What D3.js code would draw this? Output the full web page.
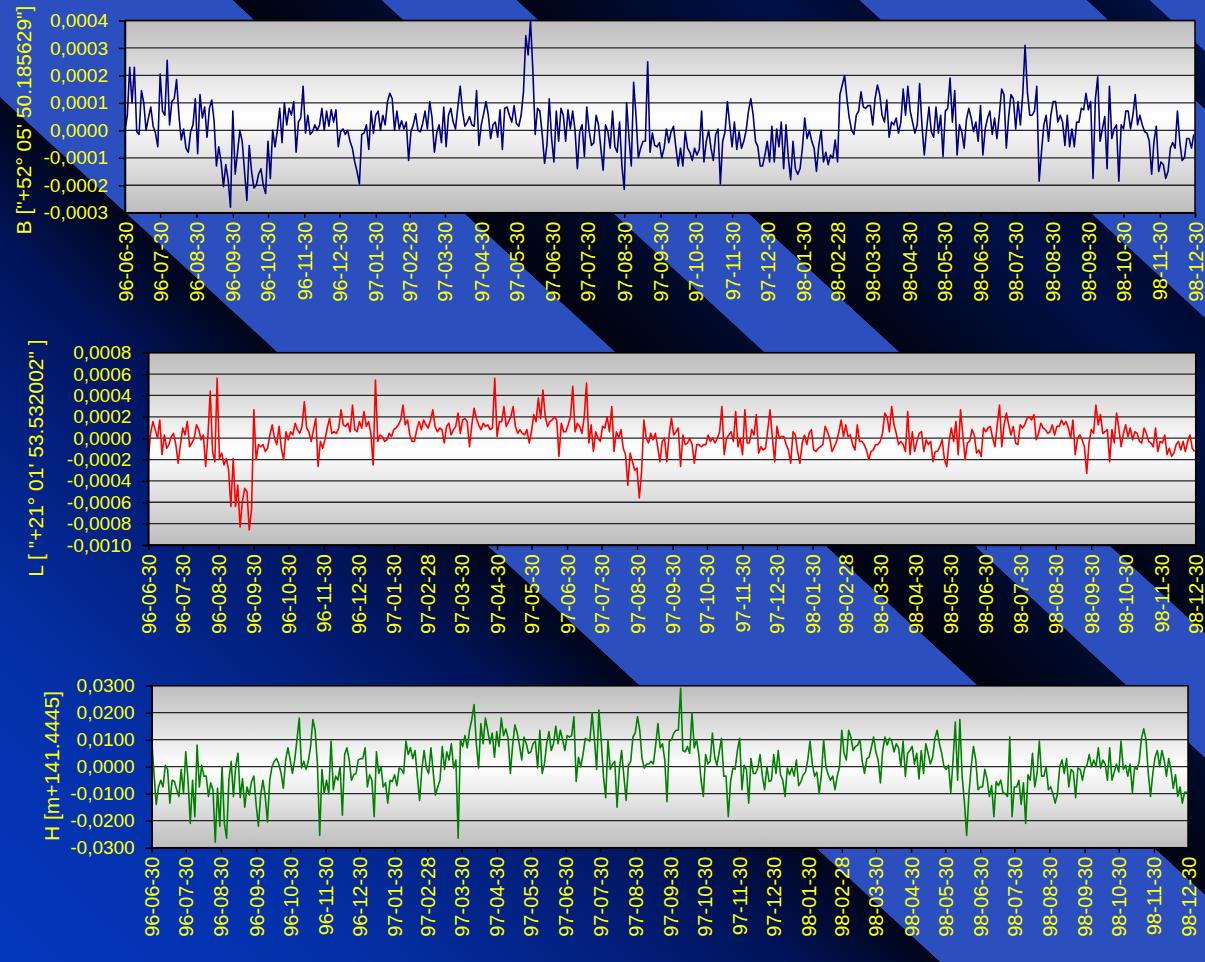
<!DOCTYPE html>
<html><head><meta charset="utf-8">
<script src="https://cdn.jsdelivr.net/npm/d3@7"></script>
<style>
html,body{margin:0;padding:0;overflow:hidden;background:#001040}
svg{display:block}
</style></head><body>
<svg id="c" width="1205" height="962"></svg>
<script>
// ---------------- DATA ----------------
const startLabel = "96-06-30";   // first observation
const endLabel = "98-12-30";     // end of the time axis
const stepDays = 2;              // one value every 2 days

const xTickLabels = ["96-06-30","96-07-30","96-08-30","96-09-30","96-10-30","96-11-30","96-12-30",
  "97-01-30","97-02-28","97-03-30","97-04-30","97-05-30","97-06-30","97-07-30","97-08-30","97-09-30",
  "97-10-30","97-11-30","97-12-30","98-01-30","98-02-28","98-03-30","98-04-30","98-05-30","98-06-30",
  "98-07-30","98-08-30","98-09-30","98-10-30","98-11-30","98-12-30"];

// B deviation, in units of 0.0001"
const valuesB = [
0.0,0.55,2.3,1.0,2.3,-0.05,-0.15,1.45,1.0,0.0,
0.45,0.85,0.15,-0.1,-0.6,2.05,0.7,0.55,2.55,0.2,
1.05,1.15,1.85,0.55,-0.35,0.05,-0.65,-0.8,-0.05,0.2,
1.15,-0.85,1.3,0.45,0.85,-0.25,0.8,1.1,0.35,-1.3,
-0.6,-1.15,-2.05,-1.25,-1.8,-2.8,0.7,-1.6,-0.8,0.0,
-0.4,-1.5,-2.55,-0.55,-1.5,-2.1,-2.0,-1.6,-1.4,-2.0,
-2.3,-0.4,-1.75,0.0,-0.6,0.0,0.8,-0.45,1.0,0.2,
0.8,0.55,1.05,-0.8,0.3,0.45,1.6,-0.1,0.55,-0.15,
-0.05,0.2,0.0,0.2,0.8,0.0,0.7,0.15,0.75,0.3,
0.75,-0.6,-0.05,0.05,-0.15,0.0,-0.4,-0.65,-1.15,-1.5,
-1.95,-0.15,-0.1,0.2,-0.7,0.7,-0.1,0.55,0.7,0.0,
0.55,0.2,1.05,1.35,1.15,0.0,0.7,0.05,0.35,0.05,
0.3,-1.1,-0.05,0.2,0.6,0.0,-0.05,0.25,0.7,0.05,
1.05,0.45,-0.8,-0.1,0.2,-0.45,0.85,-0.6,0.55,0.8,
0.3,0.05,0.85,1.6,0.7,0.15,0.3,0.5,0.2,0.15,
1.45,-0.55,
0.2,0.6,1.05,0.55,-0.3,0.2,0.3,-0.25,0.75,-0.7,
0.8,0.85,0.55,0.3,0.9,0.25,0.15,0.55,1.4,3.45,
2.75,4.0,2.2,-0.15,0.8,0.7,-0.15,-1.2,-0.55,1.15,
-0.3,-1.15,0.7,-0.4,0.8,0.55,-0.4,0.75,0.05,0.7,
0.0,-1.4,-0.05,0.2,-0.95,0.85,0.0,-0.55,-0.45,0.55,
0.2,-0.65,-1.45,0.2,-0.05,-0.65,0.7,-0.6,-0.8,0.3,
-1.3,-2.15,1.0,-0.25,-1.3,1.75,0.55,-1.0,-0.65,-0.4,
-0.4,2.5,-0.8,-0.1,-0.55,-0.6,-0.45,-1.0,-0.65,0.05,
-0.45,-0.05,0.15,-0.6,-1.3,-0.65,-1.3,-0.05,-0.65,-0.8,
-1.1,-0.65,-0.9,-0.7,0.7,-1.15,-0.4,0.0,-0.65,-1.1,
-0.15,0.05,-1.95,-0.4,-0.05,1.05,0.2,-0.6,0.3,-0.7,
-0.05,-0.65,-0.4,0.0,0.7,1.15,0.55,-0.4,-0.6,-1.3,
-1.3,-0.9,-0.4,-1.15,0.15,-1.15,0.05,-0.6,0.3,-1.4,
0.2,-1.0,-1.8,-0.4,-1.4,-1.6,-1.4,-0.65,0.45,-0.3,
0.0,-0.4,-0.65,-1.5,-0.55,0.0,-1.15,-0.8,-1.25,-0.9,
-1.0,-0.35,-1.15,
1.3,1.65,2.0,1.15,0.45,0.0,-0.15,0.55,0.7,1.4,
0.85,0.8,0.9,0.9,0.2,1.15,1.65,1.3,0.55,0.3,
1.1,-0.25,0.3,0.2,0.45,-0.1,0.3,1.5,0.55,1.6,
0.7,0.3,-0.1,0.2,1.7,0.2,-0.9,0.05,0.85,-0.05,
-0.25,0.85,-0.1,0.55,-0.95,0.7,0.8,1.9,0.3,1.45,
-0.9,0.2,-0.05,-0.65,0.4,0.8,0.45,-0.05,0.3,-0.4,
0.9,-0.9,0.05,0.45,0.7,-0.15,0.45,-0.3,0.55,1.5,
1.3,-0.65,0.5,1.3,1.15,0.05,1.05,0.2,1.3,3.1,
1.4,0.55,0.55,0.7,1.6,-1.85,-0.8,0.2,0.55,-0.4,
0.55,1.05,1.05,0.3,0.55,0.3,-0.55,0.55,-0.6,0.05,
-0.6,0.3,0.3,0.8,0.75,1.35,0.75,1.05,-1.75,1.15,
1.95,-0.4,0.05,0.5,-1.4,1.6,-0.3,0.05,0.2,-1.85,
0.2,0.05,0.7,0.7,0.05,0.55,1.3,0.2,0.55,0.2,
-0.05,-0.1,-0.4,-1.6,-0.4,0.15,-1.5,-1.15,-1.25,-1.75,
-1.5,-0.65,-0.45,-0.65,0.7,-0.4,-1.1,-1.0,-0.3,-0.3,-0.65,-0.15];

// L deviation, in units of 0.0001"
const valuesL = [
-2.0,0.45,1.55,0.8,0.0,1.7,-1.55,0.3,-0.95,-0.6,
0.15,0.45,-0.6,-2.35,-0.6,0.95,0.3,1.55,-0.8,-0.45,
0.0,1.25,0.8,-0.15,0.3,-2.65,0.3,4.4,-1.25,-2.2,
5.6,-1.9,-1.4,-2.5,-1.9,-3.0,-6.4,-1.9,-6.4,-4.4,
-8.3,-5.95,-4.7,-5.0,-8.6,-6.7,2.65,-2.0,-0.6,-0.8,
-0.6,-1.25,-0.95,0.3,1.25,0.0,-0.6,1.1,-0.95,-2.0,
0.6,-0.15,0.6,0.3,1.4,0.8,0.45,1.1,3.4,0.95,
0.6,-0.3,0.8,1.85,-2.65,-0.3,-0.95,-0.15,0.95,1.85,
0.45,0.6,0.45,0.95,2.65,1.25,1.1,1.4,0.6,3.1,
0.8,0.6,1.55,0.95,2.5,1.1,1.55,0.45,-2.5,5.45,
-0.3,0.3,0.15,-0.3,-0.15,0.45,0.15,0.8,0.95,1.25,
1.7,3.1,1.25,1.7,0.3,-0.3,-0.3,0.8,1.55,0.8,
1.7,1.25,0.95,1.7,2.65,1.1,0.6,0.95,0.8,-0.45,
1.1,1.4,0.3,0.8,1.1,2.35,0.45,1.7,1.85,1.55,
-0.8,1.25,2.8,1.85,1.25,0.8,1.4,1.1,1.25,0.8,
0.95,5.6,0.15,1.55,1.55,2.95,
1.1,1.55,2.0,2.95,1.1,0.45,0.8,0.45,0.3,0.8,
-0.45,0.6,2.2,1.55,3.75,1.85,4.5,2.0,1.1,1.55,
1.7,2.0,1.7,-1.7,1.4,0.6,0.6,1.25,2.0,4.85,
0.6,1.4,1.1,0.45,2.0,5.15,-0.45,1.25,-1.25,0.6,
0.0,-0.3,1.1,0.95,2.0,0.6,2.95,-1.25,0.6,0.0,
0.8,-0.95,-1.55,-4.4,-1.4,-2.2,-3.0,-2.8,-5.6,-3.1,
1.7,0.0,-0.45,0.45,-0.15,0.45,-0.8,-2.2,-0.3,0.0,
-2.2,0.3,1.85,0.3,0.6,0.95,-2.65,0.3,-0.6,-0.45,
0.0,-0.6,-2.35,-0.6,-0.6,-0.8,-0.6,-0.6,0.3,-0.3,
0.0,-0.45,0.0,0.6,2.95,-1.55,0.0,0.3,0.6,-0.3,
2.5,-0.8,0.0,-1.55,2.65,-0.45,-0.45,0.8,0.3,2.2,
-1.4,-0.8,-1.1,-0.95,0.8,2.65,0.0,-2.2,1.1,0.0,
0.15,0.15,-0.6,-1.1,-2.35,0.6,0.3,-1.25,-2.35,-0.45,
0.3,-0.6,0.45,0.8,-1.1,-1.25,-0.95,-0.8,-0.6,1.1,
0.6,0.0,-1.25,-0.8,-0.3,0.6,1.7,0.15,1.25,0.15,
0.3,-0.6,-1.1,1.25,
-0.3,-0.3,-0.6,-1.1,-2.0,-1.25,-1.1,-0.6,-0.6,-0.3,
0.45,2.35,2.0,0.6,2.95,1.25,0.45,-0.6,-0.3,-0.6,
-1.25,2.5,-1.55,0.6,-1.25,-0.3,0.45,0.6,-1.25,-0.15,
-0.6,-0.3,-2.2,-1.25,-1.25,-0.8,-0.15,-2.0,-2.65,-0.3,
0.95,-0.3,1.55,-1.55,2.65,0.3,-2.0,-0.45,-0.3,0.8,
0.3,-1.4,-1.1,-1.7,0.95,0.6,0.95,1.1,0.0,-0.8,
1.25,3.1,-0.8,1.25,2.35,1.25,0.3,1.1,-0.45,-0.6,
1.25,0.95,1.25,1.85,2.0,1.7,2.2,-0.15,0.45,1.4,
0.95,0.8,0.45,0.6,1.25,0.3,1.1,1.1,1.7,1.25,
1.55,0.95,0.0,1.7,-1.55,0.0,0.3,-0.15,-0.8,-3.3,
-0.45,0.8,0.45,3.1,1.25,2.2,0.45,0.6,0.8,-2.2,
0.8,-0.45,2.35,0.95,-0.8,0.45,1.25,0.15,0.95,-0.15,
0.6,0.45,-0.3,-0.45,0.95,0.45,-0.3,-0.45,-0.8,0.95,
-1.25,-0.3,-0.45,0.3,-1.55,-0.95,-1.7,-1.4,-0.6,-0.3,
-1.1,-0.3,-1.25,-0.3,0.3,-0.95,-1.25];

// H deviation, in units of 0.01 m
const valuesH = [
1.0,-0.25,-1.4,-0.75,-0.5,-0.75,0.05,-0.1,-1.35,-0.5,
-0.55,-0.85,-1.1,-0.1,-1.0,0.55,-0.5,-2.1,-0.5,-1.85,
0.8,-0.75,0.05,-0.35,-0.35,-1.1,-0.6,-0.85,-2.8,-0.8,
-2.2,0.0,-2.1,-2.65,-0.5,0.2,-1.1,0.0,0.5,-1.15,
-0.45,-1.5,-0.75,-1.05,-0.55,-0.35,-1.4,-2.2,-1.05,-0.5,
-1.1,-2.05,-0.5,0.0,0.2,0.3,0.1,-0.25,-0.8,0.25,
0.7,0.25,-0.25,0.25,1.0,1.8,-0.05,0.2,-0.1,0.2,
0.75,1.75,1.35,0.1,-2.55,-0.1,-1.0,-0.5,-1.0,0.95,
-0.85,-0.35,-0.5,0.0,-1.8,0.45,0.7,0.25,-0.5,-0.3,
-0.25,0.25,0.3,0.3,0.7,-0.75,-0.3,-0.5,-1.85,0.55,
-0.25,0.0,-0.75,-0.6,-1.35,-0.5,-0.55,-0.3,-0.7,-0.05,
-0.1,-0.25,0.95,0.45,0.7,0.3,0.6,-0.35,-1.25,-0.1,
0.6,-0.05,-0.25,0.7,-0.2,-1.05,-0.75,-0.5,0.75,-0.1,
0.55,0.25,0.85,-0.05,0.25,-2.65,1.0,0.75,1.15,0.7,
1.35,1.75,2.3,0.85,-0.05,1.6,0.85,1.8,1.35,0.85,
1.25,0.35,1.3,
0.75,1.8,1.15,1.4,1.05,-0.25,0.8,1.55,1.25,0.8,
0.25,1.1,0.85,0.5,0.55,0.85,0.95,-0.05,1.35,-0.25,
0.1,0.85,1.3,0.6,0.85,1.5,0.85,1.35,1.0,0.6,
1.15,1.1,1.15,1.85,-0.55,0.35,0.0,0.45,1.05,1.0,
0.95,2.0,1.05,-0.1,2.1,1.0,-0.35,-1.15,1.0,-0.1,
0.1,0.2,-1.5,-0.1,0.6,-0.35,-1.25,0.05,0.2,1.1,
1.25,1.85,1.35,0.3,-0.05,0.1,0.1,0.2,0.1,0.8,
1.6,0.7,0.85,0.25,-1.3,0.95,1.0,1.25,1.35,1.35,
2.9,0.6,0.55,0.75,0.5,2.0,0.7,1.0,0.45,-0.5,
-1.1,0.45,0.1,0.2,1.25,0.35,0.05,0.55,1.05,-0.35,
-0.35,-1.85,-0.55,-0.05,-0.1,0.6,1.05,-0.85,0.05,-0.1,
-1.35,0.3,-0.25,-0.25,-0.05,0.45,-0.35,-0.85,0.0,-0.55,
-0.5,0.45,-0.25,0.6,-0.3,-0.5,-1.1,-0.05,-0.3,-0.05,
-0.35,0.25,-0.7,-0.55,-0.3,-0.2,0.25,0.95,0.1,-0.35,
-0.2,-1.0,-0.3,1.0,0.0,-0.3,-0.5,-0.35,-0.85,-0.35,
0.0,1.35,0.5,
0.25,1.35,1.1,0.6,0.75,0.8,1.0,0.2,-0.25,0.3,
0.35,0.7,1.1,0.55,0.25,-0.6,0.6,1.1,0.8,1.05,
0.95,0.55,0.85,0.7,0.0,0.95,-0.35,0.5,0.6,0.75,
0.1,0.5,-0.45,0.6,-0.25,0.85,0.5,0.1,0.35,1.05,
1.35,0.85,0.5,0.0,-0.1,0.05,-0.95,0.25,1.65,-0.5,
1.75,-0.35,-1.3,-2.55,-1.0,0.0,0.75,0.25,-0.85,-0.75,
-0.75,-0.1,-0.45,-1.1,-0.7,-1.85,-0.55,-0.7,-0.5,-0.95,
-1.0,-1.1,1.1,-1.85,-0.75,-0.75,-0.5,-1.4,-0.6,-2.1,
-0.3,-0.5,0.5,-0.75,-0.25,0.95,-0.35,-0.35,0.0,-0.85,
-0.75,-1.0,-1.35,-1.0,0.0,0.25,-0.25,0.3,-0.75,-0.1,
-0.2,-1.15,-0.05,-0.1,-0.5,-0.05,0.05,0.45,0.0,0.25,
0.0,0.7,-0.05,0.25,0.1,-0.5,0.7,-0.5,-0.2,0.1,
-0.2,0.95,-0.1,0.05,-0.35,0.1,-0.95,0.0,-0.1,0.2,
1.05,1.4,1.0,-0.25,-1.1,-0.25,0.35,0.6,0.0,0.6,
0.25,-0.35,0.3,-0.1,-0.8,-0.3,-1.1,-0.75,-1.35,-0.95,-0.95];

const ticksB = [-3,-2,-1,0,1,2,3,4];
const ticksL = [-10,-8,-6,-4,-2,0,2,4,6,8];
const ticksH = [-3,-2,-1,0,1,2,3];
const unitB = 1e-4, unitL = 1e-4, unitH = 1e-2;
const titleB = 'B ["+52° 05\' 50.185629"]';
const titleL = 'L [ "+21° 01\' 53.532002" ]';
const titleH = 'H [m+141.4445]';

// ---------------- LAYOUT / STYLE ----------------
const W = 1205, H = 962;
const FONT = '"Liberation Sans", Arial, Helvetica, sans-serif';
const YELLOW = '#ffff00';
const svg = d3.select('#c');
const defs = svg.append('defs');

// background: diagonal stripes, expressed as a gradient across the stripe direction
const slope = 0.92;
const cMin = -1100, cMax = 1260;
const nrm = 1 + 1/(slope*slope);
const ptC = c => [c/nrm, -(c/slope)/nrm];
const [gx1, gy1] = ptC(cMin), [gx2, gy2] = ptC(cMax);
const LB = '#2b4fbf';
const bgStops = [
  [-1100,'#0538c2'],[-700,'#0431a9'],[-420,'#021f7c'],[-250,'#011357'],[-106,'#00051a'],
  [-105,LB],[232,LB],
  [233,'#000310'],[381,'#000b2c'],
  [382,LB],[516,LB],
  [517,'#000515'],[760,'#00114a'],[859,'#000a30'],
  [860,LB],[1086,LB],
  [1087,'#000a30'],[1149,'#001242'],
  [1150,LB],[1260,LB]
];
const bg = defs.append('linearGradient').attr('id','bgGrad')
  .attr('gradientUnits','userSpaceOnUse')
  .attr('x1',gx1).attr('y1',gy1).attr('x2',gx2).attr('y2',gy2);
bgStops.forEach(([c,col]) => bg.append('stop').attr('offset',(c-cMin)/(cMax-cMin)).attr('stop-color',col));
svg.append('rect').attr('width',W).attr('height',H).attr('fill','url(#bgGrad)');

const pg = defs.append('linearGradient').attr('id','plotGrad').attr('x1',0).attr('y1',0).attr('x2',0).attr('y2',1);
[[0,'#bdbdbd'],[0.5,'#ffffff'],[1,'#bdbdbd']].forEach(([o,c]) => pg.append('stop').attr('offset',o).attr('stop-color',c));

const parse = d3.utcParse('%y-%m-%d');
const t0 = parse(startLabel), t1 = parse(endLabel);
const tickDates = xTickLabels.map(parse);

const panels = [
  {vals:valuesB, ticks:ticksB, unit:unitB, title:titleB, color:'#000080', l:125, r:1195, t:20.5, b:212.7, tx:24, ty:120},
  {vals:valuesL, ticks:ticksL, unit:unitL, title:titleL, color:'#ff0000', l:148.3, r:1195.7, t:352.7, b:545, tx:36, ty:458},
  {vals:valuesH, ticks:ticksH, unit:unitH, title:titleH, color:'#008000', l:151.7, r:1188, t:685.7, b:847.7, tx:52, ty:766}
];

panels.forEach((p, k) => {
  const x = d3.scaleUtc().domain([t0, t1]).range([p.l, p.r]);
  const y = d3.scaleLinear().domain(d3.extent(p.ticks)).range([p.b, p.t]);
  const g = svg.append('g');

  g.append('rect').attr('x',p.l).attr('y',p.t).attr('width',p.r-p.l).attr('height',p.b-p.t)
    .attr('fill','url(#plotGrad)');

  g.selectAll('line.grid').data(p.ticks).join('line').attr('class','grid')
    .attr('x1',p.l).attr('x2',p.r).attr('y1',d=>y(d)).attr('y2',d=>y(d))
    .attr('stroke','#262626').attr('stroke-width',1.3);

  g.append('rect').attr('x',p.l).attr('y',p.t).attr('width',p.r-p.l).attr('height',p.b-p.t)
    .attr('fill','none').attr('stroke','#000').attr('stroke-width',1.5);

  const clipId = 'clip'+k;
  defs.append('clipPath').attr('id',clipId).append('rect')
    .attr('x',p.l).attr('y',p.t-1).attr('width',p.r-p.l).attr('height',p.b-p.t+2);

  const line = d3.line()
    .x((d,i) => x(d3.utcDay.offset(t0, i*stepDays)))
    .y(d => y(d));
  g.append('path').datum(p.vals).attr('d',line).attr('clip-path',`url(#${clipId})`)
    .attr('fill','none').attr('stroke',p.color).attr('stroke-width',1.6)
    .attr('stroke-linejoin','round');

  // y axis
  const fmt = v => (v*p.unit).toFixed(4).replace('.',',');
  const ya = g.append('g').attr('transform',`translate(${p.l},0)`)
    .call(d3.axisLeft(y).tickValues(p.ticks).tickSize(6).tickPadding(11).tickFormat(fmt));
  ya.select('.domain').attr('stroke','#000').attr('stroke-width',1.5);
  ya.selectAll('.tick line').attr('stroke','#000').attr('stroke-width',1.5);
  ya.selectAll('text').attr('fill',YELLOW).attr('font-size','19px').attr('font-family',FONT);
  ya.attr('font-family',FONT).attr('font-size',19);

  // x axis
  const xa = g.append('g').attr('transform',`translate(0,${p.b})`)
    .call(d3.axisBottom(x).tickValues(tickDates).tickSize(5).tickFormat((d,i)=>xTickLabels[i]));
  xa.select('.domain').attr('stroke','#000').attr('stroke-width',1.5);
  xa.selectAll('.tick line').attr('stroke','#000').attr('stroke-width',1.5);
  xa.attr('font-family',FONT).attr('font-size',20);
  xa.selectAll('text').attr('fill',YELLOW).attr('font-size','20px').attr('font-family',FONT)
    .attr('transform','rotate(-90)').attr('x',-9).attr('y',0).attr('dy','0.35em')
    .attr('text-anchor','end');

  // title
  svg.append('text').attr('transform',`translate(${p.tx},${p.ty}) rotate(-90)`)
    .attr('text-anchor','middle').attr('dy','0.35em')
    .attr('fill',YELLOW).attr('font-size','21px').attr('font-family',FONT)
    .text(p.title);
});
</script>
</body></html>
